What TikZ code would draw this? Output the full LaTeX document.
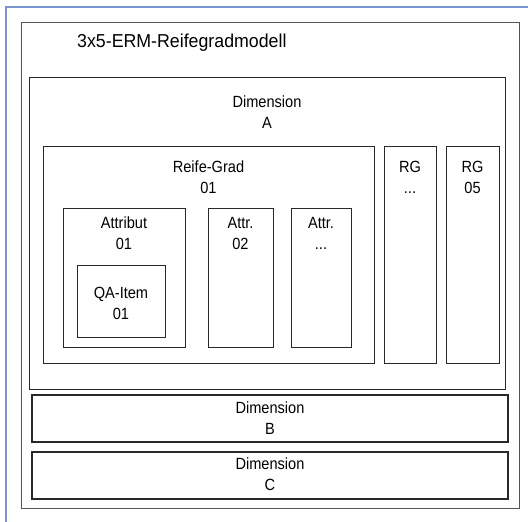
\documentclass[tikz,border=0pt]{standalone}
\usepackage{fontspec}
\setmainfont{Liberation Sans}
\newfontfamily\labelfont[FakeStretch=0.9]{Liberation Sans}
\newfontfamily\titlefont[FakeStretch=0.95]{Liberation Sans}
\usetikzlibrary{fit}
\definecolor{frameblue}{RGB}{120,150,205}
\definecolor{boxline}{RGB}{40,40,40}
\definecolor{outerline}{RGB}{85,85,85}
\begin{document}
\begin{tikzpicture}[x=1pt,y=-1pt,
  box/.style={draw=boxline,line width=1pt,inner sep=0pt,fit={#1}},
  thickbox/.style={draw=boxline,line width=1.4pt,inner sep=0pt,fit={#1}},
  % two-line labels, placed by the baseline of their second line
  lbl/.style={align=center,inner sep=0pt,anchor=base,
    font=\labelfont\fontsize{16.2}{21}\selectfont}]
  \useasboundingbox (0,0) rectangle (528,522);
  \fill[white] (0,0) rectangle (528,522);
  % page edge
  \draw[frameblue,line width=1.2pt] (6,522) -- (6,7) -- (528,7);
  % model frame and title
  \node[draw=outerline,line width=0.9pt,inner sep=0pt,fit={(21,22) (519,508)}] (model) {};
  \node[anchor=base west,inner sep=0pt,font=\titlefont\fontsize{18.7}{22}\selectfont] (title) at (77,47) {3x5-ERM-Reifegradmodell};
  % dimension A with its maturity grades
  \node[box={(29,77) (505,389)}] (dimA) {};
  \node[lbl] (dimAlbl) at (267,128) {Dimension\\A};
  \node[box={(43,146) (374,363)}] (rg01) {};
  \node[lbl] (rg01lbl) at (208.5,193) {Reife-Grad\\01};
  \node[box={(63,208) (185,347)}] (attr01) {};
  \node[lbl] (attr01lbl) at (124,249.5) {Attribut\\01};
  \node[box={(77,265) (165,337)}] (qa01) {};
  \node[lbl] (qa01lbl) at (121,319.5) {QA-Item\\01};
  \node[box={(208,208) (273,347)}] (attr02) {};
  \node[lbl] (attr02lbl) at (240.5,249.5) {Attr.\\02};
  \node[box={(291,208) (351,347)}] (attrn) {};
  \node[lbl] (attrnlbl) at (321,249.5) {Attr.\\...};
  \node[box={(384,146) (436,363)}] (rgn) {};
  \node[lbl] (rgnlbl) at (410,193) {RG\\...};
  \node[box={(446,146) (499,363)}] (rg05) {};
  \node[lbl] (rg05lbl) at (472.5,193) {RG\\05};
  % dimensions B and C
  \node[thickbox={(32,395) (508,442)}] (dimB) {};
  \node[lbl] (dimBlbl) at (270,434) {Dimension\\B};
  \node[thickbox={(32,452) (508,499)}] (dimC) {};
  \node[lbl] (dimClbl) at (270,490.7) {Dimension\\C};
\end{tikzpicture}
\end{document}
